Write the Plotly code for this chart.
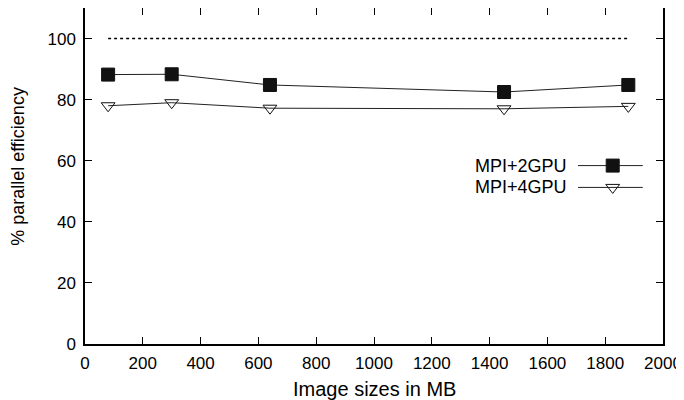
import plotly.graph_objects as go

sizes_mb = [80, 300, 640, 1450, 1880]
mpi_2gpu = [88.2, 88.3, 84.8, 82.5, 84.8]
mpi_4gpu = [78.0, 79.0, 77.2, 77.0, 77.8]
ideal = [100, 100, 100, 100, 100]
series_names = ["MPI+2GPU", "MPI+4GPU"]
x_ticks = list(range(0, 2001, 200))
y_ticks = list(range(0, 101, 20))
x_title = "Image sizes in MB"
y_title = "% parallel efficiency"

FONT = "Liberation Sans, Arial, sans-serif"
fig = go.Figure()

fig.add_trace(go.Scatter(x=sizes_mb, y=ideal, mode="lines",
                         line=dict(color="black", width=1.5, dash="dot"),
                         showlegend=False, hoverinfo="skip"))
fig.add_trace(go.Scatter(x=sizes_mb, y=mpi_2gpu, mode="lines+markers", name=series_names[0],
                         line=dict(color="#222", width=1),
                         marker=dict(symbol="square", size=13, color="#111",
                                     line=dict(color="#111", width=1)),
                         showlegend=False))
fig.add_trace(go.Scatter(x=sizes_mb, y=mpi_4gpu, mode="lines+markers", name=series_names[1],
                         line=dict(color="#222", width=1),
                         marker=dict(symbol="triangle-down-open", size=12, color="#111",
                                     line=dict(color="#111", width=1)),
                         showlegend=False))

# legend keys drawn on an overlay axis in 0..1 units
leg_rows = [0.531, 0.466]
leg_x = [0.853, 0.965]
leg_mk = [0.913, 0.913]
symbols = ["square", "triangle-down-open"]
sizes = [13, 12]
for i in range(2):
    fig.add_trace(go.Scatter(x=leg_x, y=[leg_rows[i]] * 2, mode="lines", xaxis="x2", yaxis="y2",
                             line=dict(color="#222", width=1), showlegend=False, hoverinfo="skip"))
    fig.add_trace(go.Scatter(x=[leg_mk[i]], y=[leg_rows[i]], mode="markers", xaxis="x2", yaxis="y2",
                             marker=dict(symbol=symbols[i], size=sizes[i], color="#111",
                                         line=dict(color="#111", width=1)),
                             showlegend=False, hoverinfo="skip"))
    fig.add_annotation(x=0.837, y=leg_rows[i], xref="x2", yref="y2", text=series_names[i],
                       showarrow=False, xanchor="right", yanchor="middle",
                       font=dict(family=FONT, size=18, color="black"))

# axis titles
fig.add_annotation(x=0.5, y=-0.135, xref="paper", yref="paper", text=x_title, showarrow=False,
                   xanchor="center", yanchor="middle", font=dict(family=FONT, size=20, color="black"))
fig.add_annotation(x=-0.116, y=0.53, xref="paper", yref="paper", text=y_title, showarrow=False,
                   textangle=-90, xanchor="center", yanchor="middle",
                   font=dict(family=FONT, size=18, color="black"))

axis_common = dict(showline=True, linecolor="black", linewidth=1.5, mirror="ticks",
                   ticks="inside", ticklen=7, tickcolor="black", tickwidth=1,
                   showgrid=False, zeroline=False, automargin=False,
                   tickfont=dict(family=FONT, size=17, color="black"))

fig.update_layout(
    width=676, height=392,
    margin=dict(l=77, r=21, t=0, b=56),
    paper_bgcolor="white", plot_bgcolor="white",
    showlegend=False,
    xaxis=dict(range=[0, 2000], tickvals=x_ticks, ticklabelstandoff=3, **axis_common),
    yaxis=dict(range=[0, 110], tickvals=y_ticks, ticklabelstandoff=4, **axis_common),
    xaxis2=dict(range=[0, 1], overlaying="x", visible=False, anchor="y2"),
    yaxis2=dict(range=[0, 1], overlaying="y", visible=False, anchor="x2"),
)

fig.write_html("out.html")
